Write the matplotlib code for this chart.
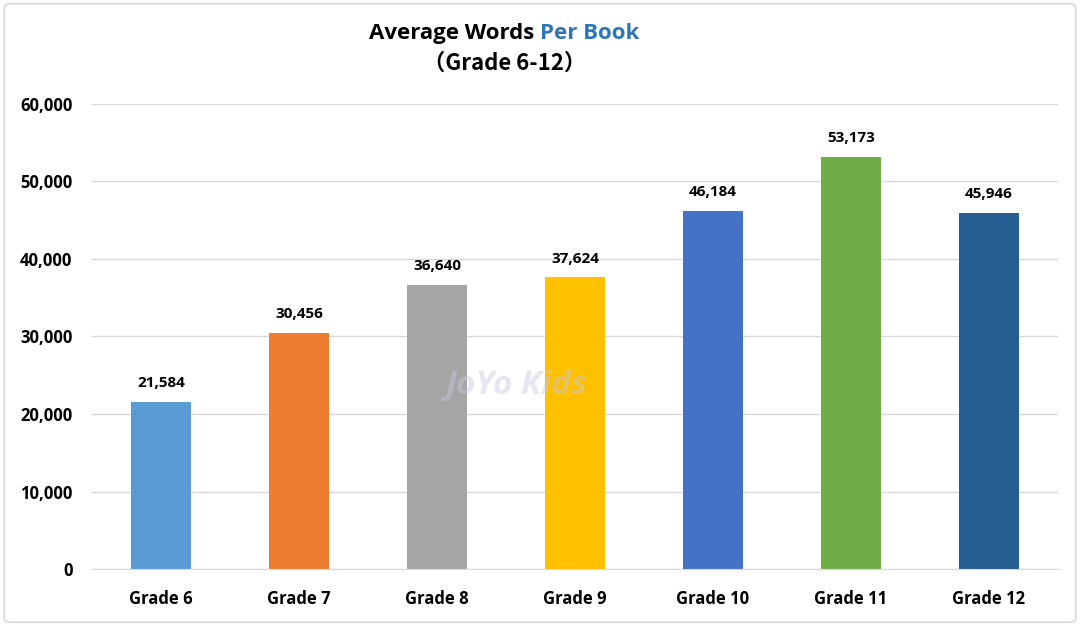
import matplotlib
matplotlib.use('Agg')
import matplotlib.pyplot as plt
from matplotlib.patches import FancyBboxPatch

# データ
grades = ['Grade 6', 'Grade 7', 'Grade 8', 'Grade 9', 'Grade 10', 'Grade 11', 'Grade 12']
words = [21584, 30456, 36640, 37624, 46184, 53173, 45946]
colors = ['#5B9BD5', '#ED7D31', '#A5A5A5', '#FFC000', '#4472C4', '#70AD47', '#255E91']

plt.rcParams['font.family'] = ['Open Sans', 'Noto Sans CJK SC', 'DejaVu Sans']
plt.rcParams['font.weight'] = 'bold'

fig = plt.figure(figsize=(10.8, 6.26), dpi=100)
ax = fig.add_axes([0.0852, 0.091, 0.8944, 0.743])

# 外枠
fig.patches.append(FancyBboxPatch((0.004, 0.006), 0.992, 0.988,
                                  boxstyle='round,pad=0,rounding_size=0.006',
                                  transform=fig.transFigure, fill=False,
                                  edgecolor='#d9d9d9', linewidth=1.2))

bars = ax.bar(grades, words, width=0.44, color=colors, zorder=2)
for b, v in zip(bars, words):
    ax.text(b.get_x() + b.get_width() / 2, v + 1500, f'{v:,}',
            ha='center', va='bottom', fontsize=11, fontweight='bold')

ax.set_ylim(0, 60000)
ax.set_xlim(-0.5, len(grades) - 0.5)
ax.set_yticks(range(0, 60001, 10000))
ax.set_yticklabels([f'{t:,}' for t in range(0, 60001, 10000)])
ax.yaxis.grid(True, color='#d9d9d9', linewidth=1, zorder=0)
ax.tick_params(axis='both', length=0, labelsize=12)
ax.tick_params(axis='x', pad=15)
ax.tick_params(axis='y', pad=14)
for s in ['top', 'right', 'left']:
    ax.spines[s].set_visible(False)
ax.spines['bottom'].set_color('#d9d9d9')
for lbl in ax.get_xticklabels() + ax.get_yticklabels():
    lbl.set_fontweight('bold')

# 透かし
fig.text(0.478, 0.385, 'JoYo Kids', fontsize=24, fontstyle='italic',
         color='#c8c8e0', alpha=0.45, ha='center', va='center', zorder=5)

# タイトル（二色）
fig.canvas.draw()
r = fig.canvas.get_renderer()
t1 = fig.text(0, 0.946, 'Average Words ', fontsize=16, fontweight='bold',
              color='black', va='center')
t2 = fig.text(0, 0.946, 'Per Book', fontsize=16, fontweight='bold',
              color='#2E75B6', va='center')
w1 = t1.get_window_extent(r).width / fig.bbox.width
w2 = t2.get_window_extent(r).width / fig.bbox.width
x0 = 0.467 - (w1 + w2) / 2
t1.set_x(x0)
t2.set_x(x0 + w1)
fig.text(0.467, 0.899, '（Grade 6-12）', fontsize=16, fontweight='bold',
         ha='center', va='center', family=['Noto Sans CJK SC', 'DejaVu Sans'])

fig.savefig('out.png', dpi=100)
